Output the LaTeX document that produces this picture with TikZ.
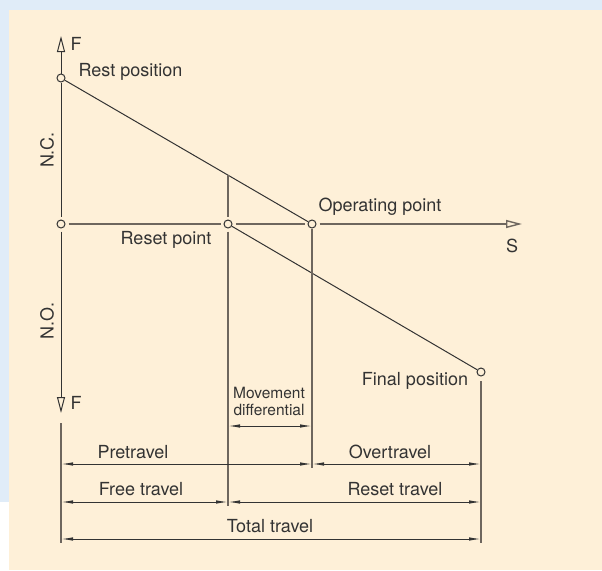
\documentclass[tikz,border=0pt]{standalone}
\usepackage{fontspec}
\setmainfont{TeX Gyre Heros}
\usetikzlibrary{arrows.meta}

\definecolor{beige}{HTML}{FEF0D8}
\definecolor{skyblue}{HTML}{E0ECF8}
\definecolor{ink}{HTML}{333333}
\definecolor{greyline}{HTML}{6E665E}

\begin{document}
\begin{tikzpicture}[
    x=1pt, y=-1pt,
    every node/.style={font=\fontsize{18}{20}\selectfont, text=ink},
    pt/.style={circle, draw=ink, fill=beige, line width=1pt, inner sep=0pt, minimum size=8pt},
    axis/.style={draw=greyline, line width=1.4pt},
    slope/.style={draw=ink, line width=1pt},
    ext/.style={draw=greyline, line width=1.2pt},
    dim/.style={draw=ink, line width=1pt, {Latex[length=12pt, width=3.5pt]}-{Latex[length=12pt, width=3.5pt]}},
    openhead/.style={-{Triangle[open, fill=beige, length=16pt, width=8pt]}},
    small/.style={font=\fontsize{15.5}{17}\selectfont, align=center}
]
    % background
    \fill[skyblue] (0,0) rectangle (602,570);
    \fill[white] (0,502) rectangle (9,570);
    \fill[beige] (9,10) rectangle (602,570);
    \useasboundingbox (0,0) rectangle (602,570);

    % points
    \coordinate (Ftop) at (61,36);
    \coordinate (Fbot) at (61,413);
    \coordinate (Send) at (522,224);
    \node[pt] (rest) at (61,78) {};
    \node[pt] (zero) at (61,224) {};
    \node[pt] (reset) at (228,224) {};
    \node[pt] (oper) at (312,224) {};
    \node[pt] (final) at (481,372) {};

    % axes
    \draw[slope, openhead] (rest) -- (Ftop);
    \draw[slope, shorten >=3pt] (rest) -- (zero);
    \draw[slope, openhead, shorten <=3pt] (zero) -- (Fbot);
    \draw[axis, shorten <=3pt, shorten >=3pt] (zero) -- (reset);
    \draw[axis, shorten <=3pt, shorten >=3pt] (reset) -- (oper);
    \draw[axis, shorten <=3pt, -{Triangle[open, fill=beige, length=16pt, width=8pt]}] (oper) -- (Send);

    % characteristic lines
    \draw[slope] (rest) -- (oper);
    \draw[slope] (reset) -- (final);

    % extension lines
    \coordinate (md-top) at (228,175);
    \coordinate (md-bot) at (228,506);
    \coordinate (op-bot) at (312,468);
    \coordinate (fin-top) at (481,381);
    \coordinate (fin-bot) at (481,543);
    \coordinate (ax-top) at (61,423);
    \coordinate (ax-bot) at (61,543);
    \draw[ext, shorten >=3pt] (md-top) -- (reset);
    \draw[ext, shorten <=3pt] (reset) -- (md-bot);
    \draw[ext] (oper) -- (op-bot);
    \draw[ext] (fin-top) -- (fin-bot);
    \draw[ext] (ax-top) -- (ax-bot);

    % dimension lines
    \coordinate (md-l) at (228,426);  \coordinate (md-r) at (312,426);
    \coordinate (pre-l) at (61,464);  \coordinate (pre-r) at (312,464);
    \coordinate (ov-r) at (481,464);
    \coordinate (free-l) at (61,502); \coordinate (free-r) at (228,502);
    \coordinate (rt-r) at (481,502);
    \coordinate (tot-l) at (61,539); \coordinate (tot-r) at (481,539);
    \draw[dim] (md-l) -- (md-r);
    \draw[dim] (pre-l) -- (pre-r);
    \draw[dim] (pre-r) -- (ov-r);
    \draw[dim] (free-l) -- (free-r);
    \draw[dim] (free-r) -- (rt-r);
    \draw[dim] (tot-l) -- (tot-r);

    % labels
    \node[anchor=west] (fup) at (67,44) {F};
    \node[anchor=west] (fdown) at (67,403) {F};
    \node (s) at (512,246) {S};
    \node[anchor=west] (restlbl) at (75,72) {Rest position};
    \node (nc) at (47,150) [rotate=90] {N.C.};
    \node (no) at (47,321) [rotate=90] {N.O.};
    \node (resetlbl) at (166,240) {Reset point};
    \node (operlbl) at (380,207) {Operating point};
    \node (finallbl) at (415,381) {Final position};
    \node[small] (mdlbl) at (269,401) {Movement\\differential};
    \node (prelbl) at (133,452) {Pretravel};
    \node (ovlbl) at (390,452) {Overtravel};
    \node (freelbl) at (141,489) {Free travel};
    \node (rtlbl) at (395,489) {Reset travel};
    \node (totlbl) at (270,526) {Total travel};
\end{tikzpicture}
\end{document}
